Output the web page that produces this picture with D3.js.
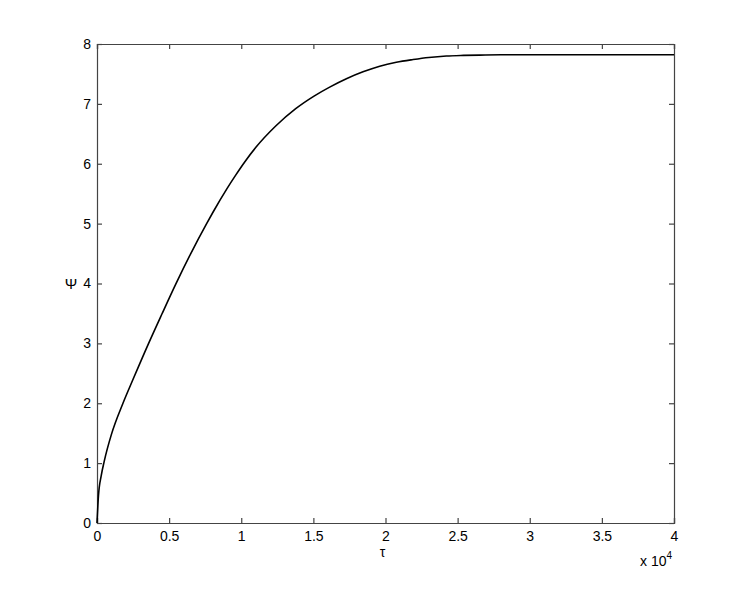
<!DOCTYPE html>
<html>
<head>
<meta charset="utf-8">
<script src="https://cdn.jsdelivr.net/npm/d3@7"></script>
<style>
  body { margin: 0; background: #fff; }
  text { font-family: "Liberation Sans", Arial, sans-serif; }
</style>
</head>
<body>
<div id="chart"></div>
<script>
// values (tau in raw units, psi)
var tauValues = [0, 100, 300, 500, 1000, 1800, 2500, 3540, 4500, 5460, 6500, 7600, 8040,
                 9000, 9615, 10240, 11000, 12390, 13775, 15045, 16130, 17290, 18440, 19600,
                 20750, 21910, 23000, 24220, 25400, 26530, 28000, 30000, 35000, 40000];
var psiValues = [0, 0.45, 0.8, 1.03, 1.48, 2.0, 2.4, 2.98, 3.49, 3.99, 4.5, 5.0, 5.19,
                 5.58, 5.81, 6.03, 6.27, 6.63, 6.92, 7.13, 7.28, 7.42, 7.535, 7.63,
                 7.695, 7.74, 7.775, 7.8, 7.81, 7.815, 7.82, 7.82, 7.82, 7.82];
var xTicks = [0, 5000, 10000, 15000, 20000, 25000, 30000, 35000, 40000];
var yTicks = [0, 1, 2, 3, 4, 5, 6, 7, 8];

var W = 745, H = 589;
var margin = {top: 44, left: 97, right: 71, bottom: 66};
var width = W - margin.left - margin.right;
var height = H - margin.top - margin.bottom;

var svg = d3.select('#chart')
  .append('svg')
    .attr('width', W)
    .attr('height', H);

var g = svg.append('g')
  .attr('transform', 'translate(' + margin.left + ',' + margin.top + ')');

var x = d3.scaleLinear().domain([0, 40000]).range([0, width]);
var y = d3.scaleLinear().domain([0, 8]).range([height, 0]);

var axisColor = '#444';
var tickLen = 5;

// bottom axis with inward ticks
var xAxis = g.append('g')
  .attr('transform', 'translate(0,' + height + ')')
  .call(d3.axisBottom(x).tickValues(xTicks).tickSize(-tickLen).tickPadding(8)
        .tickFormat(function(d) { return d3.format('~g')(d / 10000); }));

// top axis ticks
var xTop = g.append('g')
  .call(d3.axisTop(x).tickValues(xTicks).tickSize(-tickLen).tickFormat(''));

// left axis
var yAxis = g.append('g')
  .call(d3.axisLeft(y).tickValues(yTicks).tickSize(-tickLen).tickPadding(6));

// right axis ticks
var yRight = g.append('g')
  .attr('transform', 'translate(' + width + ',0)')
  .call(d3.axisRight(y).tickValues(yTicks).tickSize(-tickLen).tickFormat(''));

[xAxis, xTop, yAxis, yRight].forEach(function(a) {
  a.selectAll('.domain').attr('stroke', axisColor).attr('stroke-width', 1.2);
  a.selectAll('.tick line').attr('stroke', axisColor).attr('stroke-width', 1.2);
  a.selectAll('text').attr('font-size', 14).attr('fill', '#000')
    .attr('font-family', '"Liberation Sans", Arial, sans-serif');
});

// the curve
var line = d3.line()
  .x(function(d, i) { return x(tauValues[i]); })
  .y(function(d) { return y(d); })
  .curve(d3.curveMonotoneX);

g.append('path')
  .datum(psiValues)
  .attr('d', line)
  .attr('fill', 'none')
  .attr('stroke', '#000')
  .attr('stroke-width', 1.6);

// axis labels
g.append('text')
  .attr('x', x(20000) - 3)
  .attr('y', height + 34)
  .attr('text-anchor', 'middle')
  .attr('font-size', 14)
  .text('τ');

g.append('text')
  .attr('x', -26)
  .attr('y', y(4) + 5)
  .attr('text-anchor', 'middle')
  .attr('font-size', 15)
  .text('Ψ');

// exponent label
var expo = g.append('text')
  .attr('x', width - 34)
  .attr('y', height + 43)
  .attr('font-size', 14);
expo.append('tspan').text('x 10');
expo.append('tspan').attr('dy', -7).attr('font-size', 10).text('4');
</script>
</body>
</html>
